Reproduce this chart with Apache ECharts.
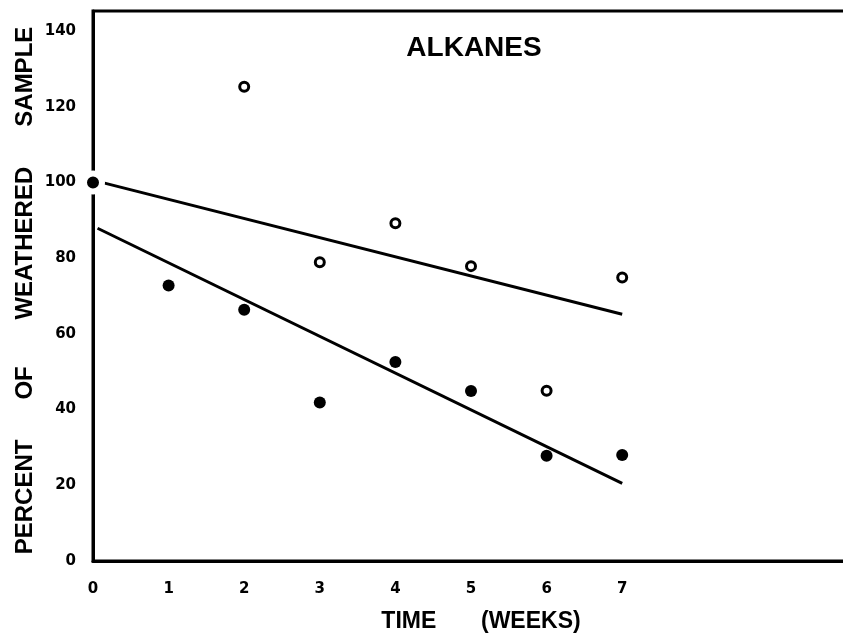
<!DOCTYPE html>
<html>
<head>
<meta charset="utf-8">
<title>Alkanes</title>
<script src="https://cdn.jsdelivr.net/npm/echarts@6/dist/echarts.min.js"></script>
<style>
  html, body { margin: 0; padding: 0; background: #fff; overflow: hidden; }
  #chart { width: 843px; height: 638px; }
</style>
</head>
<body>
<div id="chart"></div>
<script>
// Sampling times in weeks
const weeks = [0, 1, 2, 3, 4, 5, 6, 7];
// Percent remaining, filled symbols
const filledPct = [100, 72.8, 66.4, 41.9, 52.6, 44.9, 27.8, 28.0];
// Percent remaining, open symbols (weeks 2-7)
const openWeeks = [2, 3, 4, 5, 6, 7];
const openPct = [125.3, 78.9, 89.2, 77.9, 45.0, 74.9];
// Fitted trend lines, end points [week, percent]
const upperFit = [[0.14, 99.9], [7, 65.2]];
const lowerFit = [[0.06, 87.9], [7, 20.5]];
// Axis tick values
const yTicks = [0, 20, 40, 60, 80, 100, 120, 140];
const xTickLabels = ['0', '1', '2', '3', '4', '5', '6', '7'];

const INK = '#000';
const TITLE_FONT = '"Liberation Sans", Arial, sans-serif';
const TICK_FONT = '"DejaVu Sans", sans-serif';

const filledData = weeks.map((w, i) => {
  const item = { value: [w, filledPct[i]] };
  // the dot sitting on the vertical axis is set off from it by a white ring
  if (w === 0) item.symbolSize = 18, item.itemStyle = { borderColor: '#fff', borderWidth: 6 };
  return item;
});
const openData = openWeeks.map((w, i) => [w, openPct[i]]);

const chart = echarts.init(document.getElementById('chart'), null, { renderer: 'canvas' });

chart.setOption({
  backgroundColor: '#fff',
  animation: false,
  grid: {
    // the frame runs on past the right edge of the page
    left: 93, top: 11, width: 756, bottom: 77,
    containLabel: false,
    outerBoundsMode: 'none',
    show: true, borderColor: INK, borderWidth: 3, backgroundColor: 'transparent'
  },
  graphic: [{
    type: 'text',
    x: 474, y: 48,
    style: {
      text: 'ALKANES',
      font: 'bold 28px ' + TITLE_FONT,
      fill: INK,
      align: 'center',
      verticalAlign: 'middle'
    }
  }],
  xAxis: {
    type: 'value',
    min: 0, max: 10, interval: 1,
    axisLine: { show: true, lineStyle: { color: INK, width: 3 } },
    axisTick: { show: false },
    splitLine: { show: false },
    axisLabel: {
      margin: 21,
      color: INK,
      fontFamily: TICK_FONT,
      fontWeight: 'bold',
      fontSize: 15,
      formatter: v => (v <= 7 ? xTickLabels[v] : '')
    },
    name: 'TIME       (WEEKS)',
    nameLocation: 'middle',
    nameGap: 49,
    nameMoveOverlap: false,
    nameTextStyle: {
      color: INK, fontFamily: TITLE_FONT, fontWeight: 'bold', fontSize: 23,
      padding: [0, 0, 0, 20]
    }
  },
  yAxis: {
    type: 'value',
    min: 0, max: 145.3, interval: 20,
    axisLine: { show: true, lineStyle: { color: INK, width: 3 } },
    axisTick: { show: false },
    splitLine: { show: false },
    axisLabel: {
      margin: 17,
      color: INK,
      fontFamily: TICK_FONT,
      fontWeight: 'bold',
      fontSize: 15,
      showMaxLabel: false,
      formatter: v => (yTicks.includes(v) ? String(v) : '')
    },
    name: 'PERCENT      OF       WEATHERED      SAMPLE',
    nameLocation: 'middle',
    nameRotate: 90,
    nameGap: 56,
    nameMoveOverlap: false,
    nameTextStyle: {
      color: INK, fontFamily: TITLE_FONT, fontWeight: 'bold', fontSize: 24,
      padding: [0, 9, 0, 0]
    }
  },
  series: [
    {
      name: 'upper fit',
      type: 'line',
      data: upperFit,
      symbol: 'none',
      lineStyle: { color: INK, width: 3 },
      z: 3
    },
    {
      name: 'lower fit',
      type: 'line',
      data: lowerFit,
      symbol: 'none',
      lineStyle: { color: INK, width: 3 },
      z: 3
    },
    {
      name: 'filled',
      type: 'scatter',
      data: filledData,
      symbol: 'circle',
      symbolSize: 12,
      itemStyle: { color: INK, opacity: 1 },
      z: 4
    },
    {
      name: 'open',
      type: 'scatter',
      data: openData,
      symbol: 'circle',
      symbolSize: 9,
      itemStyle: { color: '#fff', borderColor: INK, borderWidth: 3, opacity: 1 },
      z: 4
    }
  ]
});
</script>
</body>
</html>
